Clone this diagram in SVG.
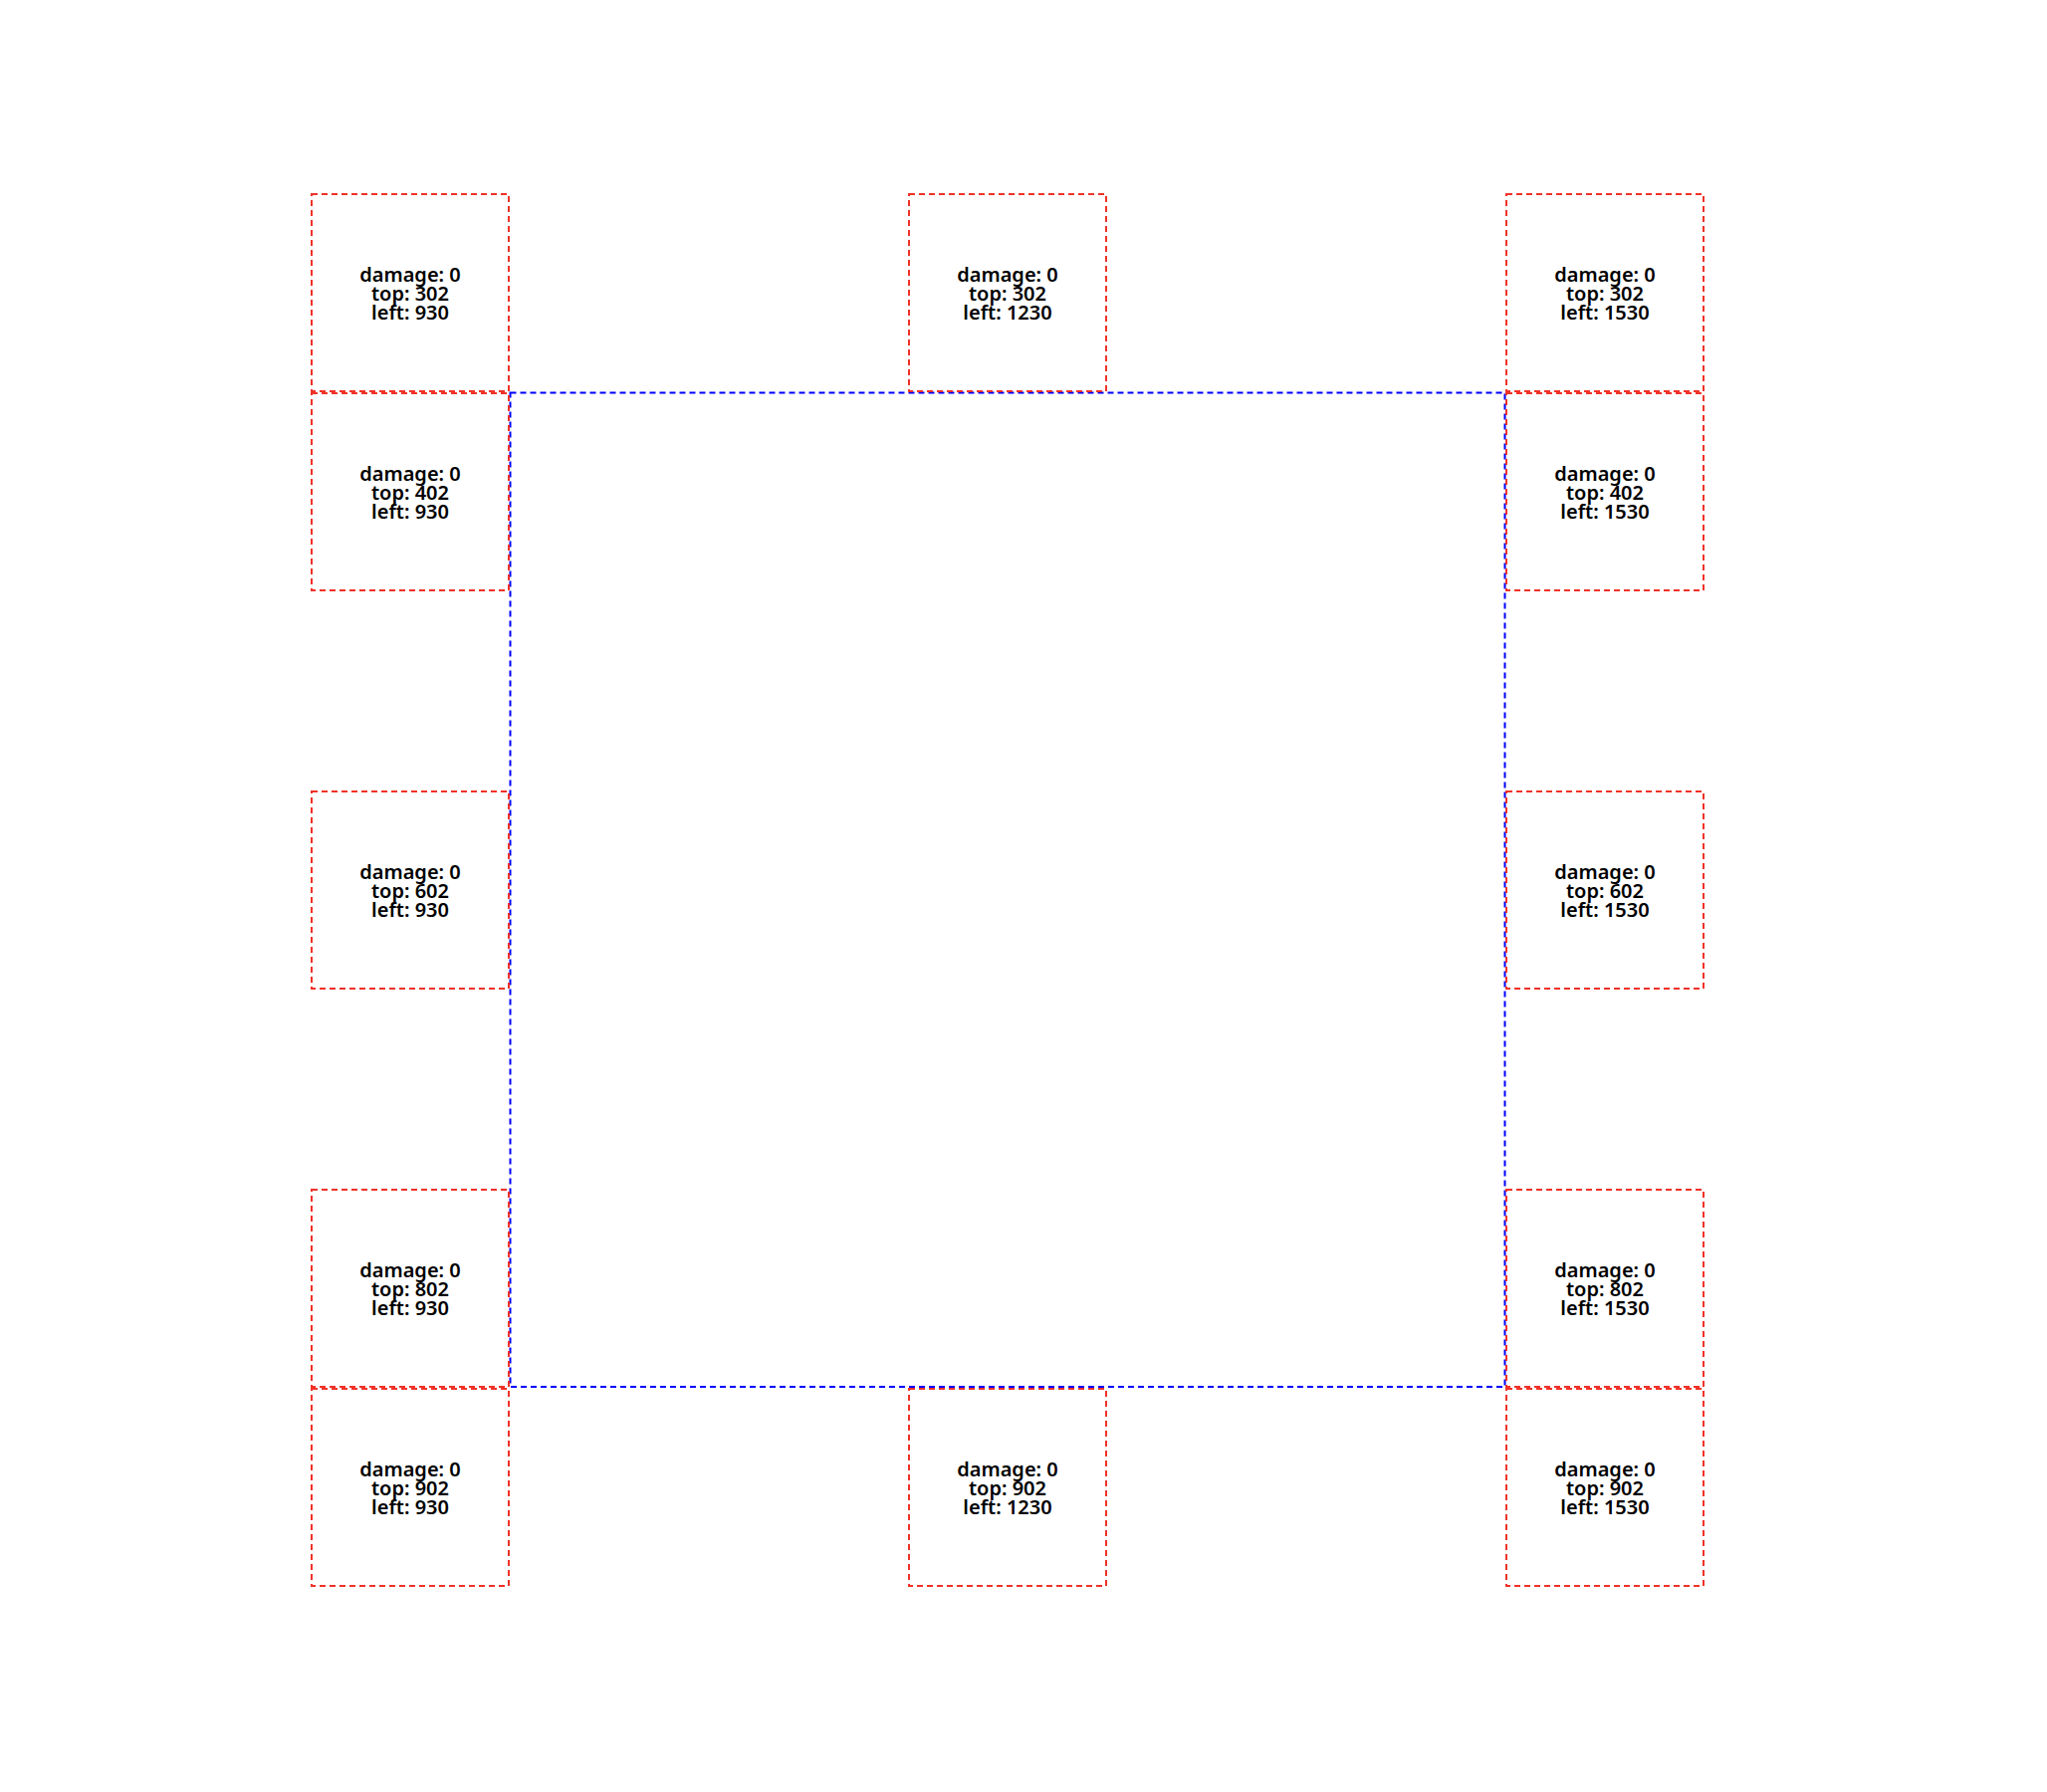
<svg xmlns="http://www.w3.org/2000/svg" width="2056" height="1800" viewBox="0 0 2056 1800">
<style>
.box{fill:none;stroke:#f03228;stroke-width:2;stroke-dasharray:6 4}
.frame{fill:none;stroke:#0000ff;stroke-width:2;stroke-dasharray:6 4}
.lbl{font-family:"Noto Sans","Liberation Sans",sans-serif;font-size:20px;font-weight:600;fill:#000;text-anchor:middle}
</style>
<rect width="2056" height="1800" fill="#fff"/>
<g id="frame"><rect class="frame" x="512.5" y="394.5" width="999" height="998.5"/></g>
<g id="connectors"></g>
<g id="n-302-930"><rect class="box" x="313" y="195" width="198" height="198"/><text class="lbl" x="412" y="282.5"><tspan x="412">damage: 0</tspan><tspan x="412" dy="19.2">top: 302</tspan><tspan x="412" dy="19.2">left: 930</tspan></text></g>
<g id="n-302-1230"><rect class="box" x="913" y="195" width="198" height="198"/><text class="lbl" x="1012" y="282.5"><tspan x="1012">damage: 0</tspan><tspan x="1012" dy="19.2">top: 302</tspan><tspan x="1012" dy="19.2">left: 1230</tspan></text></g>
<g id="n-302-1530"><rect class="box" x="1513" y="195" width="198" height="198"/><text class="lbl" x="1612" y="282.5"><tspan x="1612">damage: 0</tspan><tspan x="1612" dy="19.2">top: 302</tspan><tspan x="1612" dy="19.2">left: 1530</tspan></text></g>
<g id="n-402-930"><rect class="box" x="313" y="395" width="198" height="198"/><text class="lbl" x="412" y="482.5"><tspan x="412">damage: 0</tspan><tspan x="412" dy="19.2">top: 402</tspan><tspan x="412" dy="19.2">left: 930</tspan></text></g>
<g id="n-402-1530"><rect class="box" x="1513" y="395" width="198" height="198"/><text class="lbl" x="1612" y="482.5"><tspan x="1612">damage: 0</tspan><tspan x="1612" dy="19.2">top: 402</tspan><tspan x="1612" dy="19.2">left: 1530</tspan></text></g>
<g id="n-602-930"><rect class="box" x="313" y="795" width="198" height="198"/><text class="lbl" x="412" y="882.5"><tspan x="412">damage: 0</tspan><tspan x="412" dy="19.2">top: 602</tspan><tspan x="412" dy="19.2">left: 930</tspan></text></g>
<g id="n-602-1530"><rect class="box" x="1513" y="795" width="198" height="198"/><text class="lbl" x="1612" y="882.5"><tspan x="1612">damage: 0</tspan><tspan x="1612" dy="19.2">top: 602</tspan><tspan x="1612" dy="19.2">left: 1530</tspan></text></g>
<g id="n-802-930"><rect class="box" x="313" y="1195" width="198" height="198"/><text class="lbl" x="412" y="1282.5"><tspan x="412">damage: 0</tspan><tspan x="412" dy="19.2">top: 802</tspan><tspan x="412" dy="19.2">left: 930</tspan></text></g>
<g id="n-802-1530"><rect class="box" x="1513" y="1195" width="198" height="198"/><text class="lbl" x="1612" y="1282.5"><tspan x="1612">damage: 0</tspan><tspan x="1612" dy="19.2">top: 802</tspan><tspan x="1612" dy="19.2">left: 1530</tspan></text></g>
<g id="n-902-930"><rect class="box" x="313" y="1395" width="198" height="198"/><text class="lbl" x="412" y="1482.5"><tspan x="412">damage: 0</tspan><tspan x="412" dy="19.2">top: 902</tspan><tspan x="412" dy="19.2">left: 930</tspan></text></g>
<g id="n-902-1230"><rect class="box" x="913" y="1395" width="198" height="198"/><text class="lbl" x="1012" y="1482.5"><tspan x="1012">damage: 0</tspan><tspan x="1012" dy="19.2">top: 902</tspan><tspan x="1012" dy="19.2">left: 1230</tspan></text></g>
<g id="n-902-1530"><rect class="box" x="1513" y="1395" width="198" height="198"/><text class="lbl" x="1612" y="1482.5"><tspan x="1612">damage: 0</tspan><tspan x="1612" dy="19.2">top: 902</tspan><tspan x="1612" dy="19.2">left: 1530</tspan></text></g>
</svg>
